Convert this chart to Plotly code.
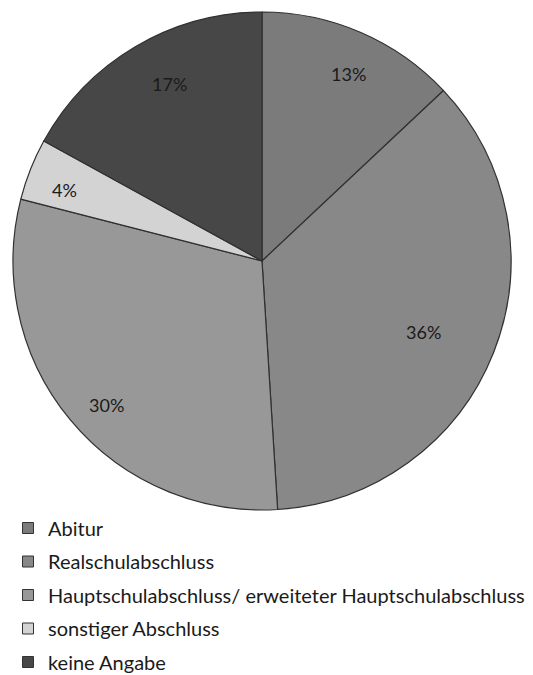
import math
import plotly.graph_objects as go

labels = ["Abitur", "Realschulabschluss",
          "Hauptschulabschluss/ erweiteter Hauptschulabschluss",
          "sonstiger Abschluss", "keine Angabe"]
values = [13, 36, 30, 4, 17]
text_labels = ["13%", "36%", "30%", "4%", "17%"]
colors = ["#7b7b7b", "#888888", "#989898", "#d3d3d3", "#474747"]

# label placement (fraction of radius, "best fit" style)
label_radius = [0.875, 0.78, 0.91, 0.915, 0.885]

W, H = 533, 675
CX, CY, R = 262, 261, 249
FONT = "Lato, Open Sans, sans-serif"
LEGEND_TOP, LEGEND_STEP = 528, 33.5   # vertical centre of first row, row pitch (px)

fig = go.Figure()
fig.add_trace(go.Pie(
    labels=labels, values=values,
    textinfo="none",
    sort=False, direction="clockwise", rotation=0,
    marker=dict(colors=colors, line=dict(color="#303030", width=1.2)),
    domain=dict(x=[(CX - R) / W, (CX + R) / W], y=[1 - (CY + R) / H, 1 - (CY - R) / H]),
    hoverinfo="skip", showlegend=False,
))

# legend entries: one small legend per row so the rows get the reference spacing
legend_layout = {}
for i, (lab, col) in enumerate(zip(labels, colors)):
    key = "legend" if i == 0 else f"legend{i + 1}"
    fig.add_trace(go.Scatter(
        x=[None], y=[None], mode="markers", name=lab,
        legend=key,
        marker=dict(symbol="square", size=11, color=col,
                    line=dict(color="#333333", width=1)),
    ))
    legend_layout[key] = dict(
        x=8 / W, y=1 - (LEGEND_TOP + i * LEGEND_STEP) / H,
        xanchor="left", yanchor="middle",
        font=dict(family=FONT, size=20, color="#1a1a1a"),
        itemwidth=30, bgcolor="rgba(0,0,0,0)",
    )

# percentage labels at the slice mid-angles
total = sum(values)
cum = 0
for v, t, rf in zip(values, text_labels, label_radius):
    mid = (cum + v / 2) / total * 2 * math.pi
    cum += v
    px = CX + rf * R * math.sin(mid)
    py = CY - rf * R * math.cos(mid)
    fig.add_annotation(x=px / W, y=1 - py / H, xref="paper", yref="paper",
                       text=t, showarrow=False,
                       font=dict(family=FONT, size=18, color="#1a1a1a"))

fig.update_layout(
    width=W, height=H,
    margin=dict(l=0, r=0, t=0, b=0, autoexpand=False),
    paper_bgcolor="white", plot_bgcolor="white",
    xaxis=dict(visible=False), yaxis=dict(visible=False),
    showlegend=True,
    **legend_layout,
)
fig.write_html("out.html")
